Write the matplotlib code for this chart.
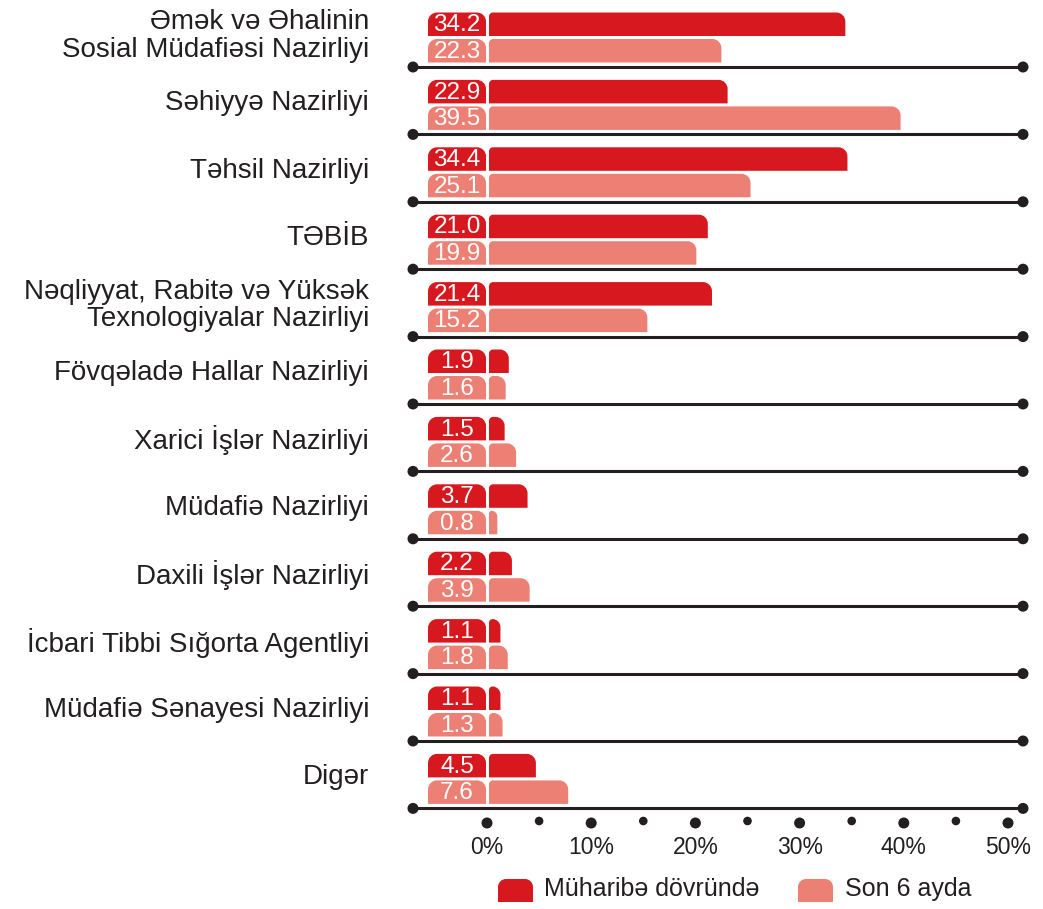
import matplotlib.pyplot as plt
from matplotlib.path import Path
from matplotlib.patches import PathPatch, Ellipse

plt.rcParams['font.family'] = ['Liberation Sans', 'DejaVu Sans']

# Data
categories = [
    "Əmək və Əhalinin\nSosial Müdafiəsi Nazirliyi",
    "Səhiyyə Nazirliyi",
    "Təhsil Nazirliyi",
    "TƏBİB",
    "Nəqliyyat, Rabitə və Yüksək\nTexnologiyalar Nazirliyi",
    "Fövqəladə Hallar Nazirliyi",
    "Xarici İşlər Nazirliyi",
    "Müdafiə Nazirliyi",
    "Daxili İşlər Nazirliyi",
    "İcbari Tibbi Sığorta Agentliyi",
    "Müdafiə Sənayesi Nazirliyi",
    "Digər",
]
war_period = [34.2, 22.9, 34.4, 21.0, 21.4, 1.9, 1.5, 3.7, 2.2, 1.1, 1.1, 4.5]
last_6_months = [22.3, 39.5, 25.1, 19.9, 15.2, 1.6, 2.6, 0.8, 3.9, 1.8, 1.3, 7.6]
series_names = ["Müharibə dövründə", "Son 6 ayda"]
x_ticks = [0, 10, 20, 30, 40, 50]
x_minor = [5, 15, 25, 35, 45]

RED = '#d7181f'
PINK = '#ec8074'
DARK = '#231f20'

W, H = 1043, 909
PX = 10.42          # pixels per percent
X0 = 487            # pixel position of 0%

fig = plt.figure(figsize=(W / 100, H / 100), dpi=100)
ax = fig.add_axes([0, 0, 1, 1])
ax.set_xlim(-X0 / PX, (W - X0) / PX)
ax.set_ylim(H, 0)
ax.axis('off')


def tab(x0, x1, yt, yb, rl, rr, color):
    # rectangle with rounded top corners (radii in pixels)
    wpx = (x1 - x0) * PX
    hpx = yb - yt
    if rl + rr > wpx:
        s = wpx / (rl + rr)
        rl, rr = rl * s, rr * s
    rl, rr = min(rl, hpx), min(rr, hpx)
    k = 0.5523
    lx, ly = rl / PX, rl
    rx, ry = rr / PX, rr
    verts = [
        (x0, yb), (x0, yt + ly),
        (x0, yt + ly - k * ly), (x0 + lx - k * lx, yt), (x0 + lx, yt),
        (x1 - rx, yt),
        (x1 - rx + k * rx, yt), (x1, yt + ry - k * ry), (x1, yt + ry),
        (x1, yb), (x0, yb),
    ]
    codes = [Path.MOVETO, Path.LINETO,
             Path.CURVE4, Path.CURVE4, Path.CURVE4,
             Path.LINETO,
             Path.CURVE4, Path.CURVE4, Path.CURVE4,
             Path.LINETO, Path.CLOSEPOLY]
    ax.add_patch(PathPatch(Path(verts, codes), facecolor=color, edgecolor='none'))


def dot(x, y, r):
    ax.add_patch(Ellipse((x, y), 2 * r / PX, 2 * r, facecolor=DARK, edgecolor='none'))


PITCH = 67.4
BH = 23.5
box_l, box_r = (428 - X0) / PX, (486 - X0) / PX
bar_l = (489 - X0) / PX
line_l, line_r = (413 - X0) / PX, (1023 - X0) / PX

for i, cat in enumerate(categories):
    base = PITCH * i
    for j, (vals, col) in enumerate([(war_period, RED), (last_6_months, PINK)]):
        yt = 12.5 + base + j * 26.5
        yb = yt + BH
        tab(box_l, box_r, yt, yb, 9, 9, col)
        tab(bar_l, bar_l + vals[i], yt, yb, 4, 9, col)
        ax.text((box_l + box_r) / 2, (yt + yb) / 2 + 1, f"{vals[i]:.1f}",
                color='white', fontsize=17.5, ha='center', va='center')
    ax.text((369 - X0) / PX, 36 + base, cat, ha='right', va='center',
            fontsize=20, color=DARK, multialignment='right', linespacing=1.07)
    ly = 67 + base
    ax.plot([line_l, line_r], [ly, ly], color=DARK, lw=2.2, solid_capstyle='butt')
    dot(line_l, ly, 5.5)
    dot(line_r, ly, 5.5)

for t in x_ticks:
    dot(t, 823, 5.5)
    ax.text(t, 847, f"{t}%", ha='center', va='center', fontsize=16.5, color=DARK)
for t in x_minor:
    dot(t, 821, 4.3)

# Legend
for name, col, px_box, px_txt in [(series_names[0], RED, 498, 544),
                                   (series_names[1], PINK, 798, 845)]:
    tab((px_box - X0) / PX, (px_box + 35 - X0) / PX, 879, 902, 8, 8, col)
    ax.text((px_txt - X0) / PX, 889, name, ha='left', va='center',
            fontsize=18, color=DARK)

fig.savefig('out.png', dpi=100)
